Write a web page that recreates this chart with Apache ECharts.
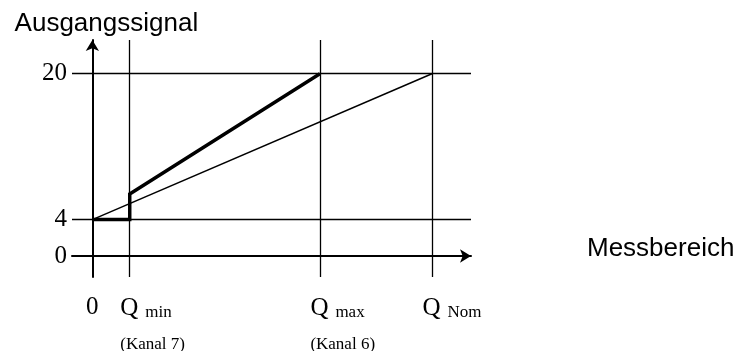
<!DOCTYPE html>
<html>
<head>
<meta charset="utf-8">
<script src="https://cdn.jsdelivr.net/npm/echarts@6/dist/echarts.min.js"></script>
<style>
  html, body { margin: 0; padding: 0; background: #fff; }
  #chart { width: 739px; height: 351px; }
</style>
</head>
<body>
<div id="chart"></div>
<script>
// Achsenwerte (0, Q min, Q max, Q Nom) und Beschriftungen
var xZero = [0];
var xTicks = [11, 67, 100];
var xSubs = ['min', 'max', 'Nom'];
var xKanal = ['(Kanal 7)', '(Kanal 6)', ''];
var yTicks = [0, 4, 20];
var hLines = [4, 20];

// Kennlinien
var lineQmax = [[0, 4], [11, 4], [11, 6.8], [67, 20]];   // dicke Linie
var lineQnom = [[0, 4], [100, 20]];                     // duenne Linie

var serif = 'Liberation Serif';
var sans = 'Liberation Sans';
var xMin = -6, xMax = 111.5;

function qLabel(val) {
    var i = xTicks.indexOf(val);
    if (i < 0) return '';
    var s = '{p|}{q|Q}{s|' + xSubs[i] + '}';
    if (xKanal[i]) s += '\n{p|}{k|' + xKanal[i] + '}';
    return s;
}

var chart = echarts.init(document.getElementById('chart'));
var option = {
    animation: false,
    backgroundColor: '#fff',
    grid: {
        left: 72,
        right: 268,
        top: 40,
        bottom: 74,
        containLabel: false,
        outerBoundsMode: 'none'
    },
    xAxis: [
        {
            type: 'value',
            position: 'bottom',
            min: xMin,
            max: xMax,
            name: 'Messbereich',
            nameLocation: 'end',
            nameGap: 116,
            nameTextStyle: {
                fontFamily: sans,
                fontSize: 26,
                color: '#000',
                align: 'left',
                verticalAlign: 'bottom',
                lineHeight: 14
            },
            axisLine: {
                show: true,
                onZero: true,
                symbol: ['none', 'arrow'],
                symbolSize: [10, 11],
                lineStyle: { color: '#000', width: 2 }
            },
            axisTick: { show: false },
            splitLine: { show: false },
            axisLabel: {
                customValues: xZero,
                margin: 18,
                fontFamily: serif,
                fontSize: 25,
                color: '#000'
            }
        },
        {
            type: 'value',
            position: 'bottom',
            min: xMin,
            max: xMax,
            axisLine: { show: false },
            axisTick: { show: false },
            splitLine: { show: false },
            axisLabel: {
                customValues: xTicks,
                hideOverlap: false,
                margin: 19,
                color: '#000',
                formatter: qLabel,
                rich: {
                    p: { width: 41, height: 10, align: 'left' },
                    q: { fontFamily: serif, fontSize: 25, lineHeight: 25, width: 25, verticalAlign: 'bottom', align: 'left', color: '#000' },
                    s: { fontFamily: serif, fontSize: 17, lineHeight: 17, width: 35, verticalAlign: 'bottom', align: 'left', color: '#000' },
                    k: { fontFamily: serif, fontSize: 17, lineHeight: 48, width: 60, align: 'left', color: '#000' }
                }
            }
        }
    ],
    yAxis: {
        type: 'value',
        min: -2.3,
        max: 23.7,
        name: 'Ausgangssignal',
        nameLocation: 'end',
        nameGap: 3,
        nameTextStyle: {
            fontFamily: sans,
            fontSize: 26,
            color: '#000',
            padding: [0, 0, 0, 28]
        },
        axisLine: {
            show: true,
            onZero: true,
            symbol: ['none', 'arrow'],
            symbolSize: [10, 11],
            lineStyle: { color: '#000', width: 2 }
        },
        axisTick: { show: false },
        splitLine: { show: false },
        axisLabel: {
            customValues: yTicks,
            margin: 5,
            fontFamily: serif,
            fontSize: 25,
            color: '#000'
        }
    },
    series: [
        {
            // Hilfslinien
            type: 'line',
            data: [],
            silent: true,
            z: 1,
            markLine: {
                silent: true,
                symbol: 'none',
                label: { show: false },
                lineStyle: { color: '#000', width: 1.3, type: 'solid' },
                data: hLines.map(function (v) { return { yAxis: v }; })
                    .concat(xTicks.map(function (v) { return { xAxis: v }; }))
            }
        },
        {
            type: 'line',
            data: lineQnom,
            symbol: 'none',
            z: 3,
            lineStyle: { color: '#000', width: 1.5 }
        },
        {
            type: 'line',
            data: lineQmax,
            symbol: 'none',
            z: 4,
            lineStyle: { color: '#000', width: 3.5, join: 'miter' }
        }
    ]
};
chart.setOption(option);
</script>
</body>
</html>
